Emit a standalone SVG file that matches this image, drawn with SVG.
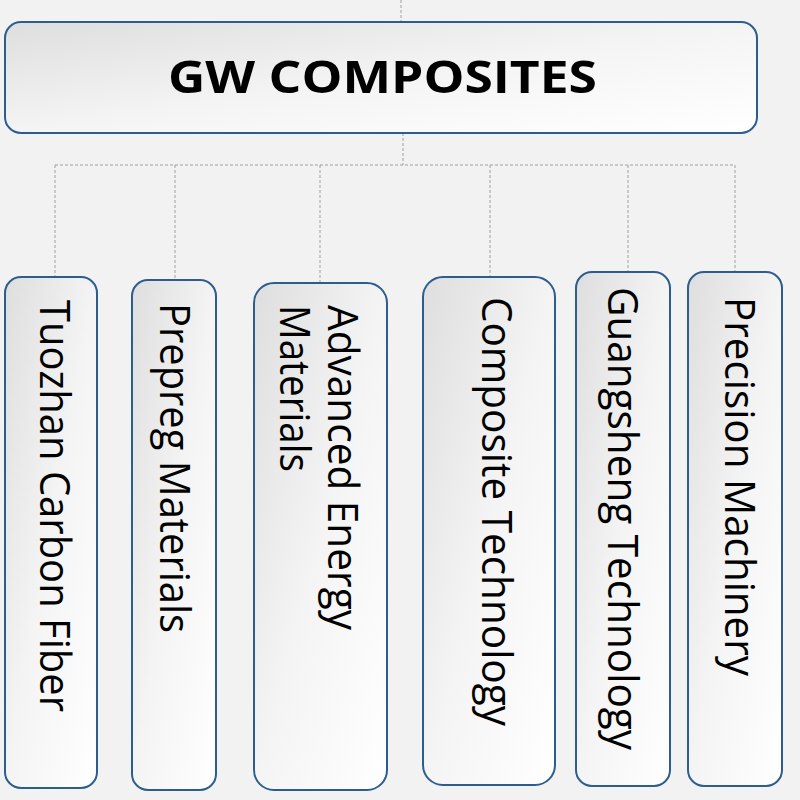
<svg xmlns="http://www.w3.org/2000/svg" width="800" height="800" viewBox="0 0 800 800">
<defs>
<linearGradient id="g" x1="0" y1="0" x2="1" y2="1">
<stop offset="0" stop-color="#dedede"/>
<stop offset="0.5" stop-color="#f4f4f4"/>
<stop offset="1" stop-color="#ffffff"/>
</linearGradient>
<style>
.box{fill:url(#g);stroke:#2c5d8f;stroke-width:2}
.lbl{font-family:"Open Sans","Liberation Sans",sans-serif;font-size:42px;fill:#000}
.title{font-family:"Open Sans","Liberation Sans",sans-serif;font-size:45px;font-weight:bold;fill:#000}
.con{fill:none;stroke:#a0a0a0;stroke-width:1;stroke-dasharray:3 2}
</style>
</defs>
<rect width="800" height="800" fill="#f2f2f2"/>
<g id="connectors">
<path class="con" d="M401 0V22"/>
<path class="con" d="M403 133V165"/>
<path class="con" d="M55 165H735"/>
<path class="con" d="M55 165V277M175 165V280M320 165V283M490 165V277M628 165V272M735 165V272"/>
</g>
<g id="root">
<rect class="box" x="5" y="22" width="752" height="111" rx="16"/>
<text class="title" x="168" y="93" textLength="429" lengthAdjust="spacingAndGlyphs">GW COMPOSITES</text>
</g>
<g id="n1">
<rect class="box" x="5" y="277" width="92" height="511" rx="16"/>
<text class="lbl" transform="translate(40,300) rotate(90)" textLength="412" lengthAdjust="spacingAndGlyphs">Tuozhan Carbon Fiber</text>
</g>
<g id="n2">
<rect class="box" x="132" y="280" width="84" height="510" rx="16"/>
<text class="lbl" transform="translate(160,303) rotate(90)" textLength="330" lengthAdjust="spacingAndGlyphs">Prepreg Materials</text>
</g>
<g id="n3">
<rect class="box" x="254" y="283" width="133" height="507" rx="20"/>
<text class="lbl" transform="translate(328,305) rotate(90)" textLength="325" lengthAdjust="spacingAndGlyphs">Advanced Energy</text>
<text class="lbl" transform="translate(280,305) rotate(90)" textLength="167" lengthAdjust="spacingAndGlyphs">Materials</text>
</g>
<g id="n4">
<rect class="box" x="423" y="277" width="132" height="508" rx="20"/>
<text class="lbl" transform="translate(482,297) rotate(90)" textLength="429" lengthAdjust="spacingAndGlyphs">Composite Technology</text>
</g>
<g id="n5">
<rect class="box" x="576" y="272" width="94" height="514" rx="16"/>
<text class="lbl" transform="translate(608,287) rotate(90)" textLength="463" lengthAdjust="spacingAndGlyphs">Guangsheng Technology</text>
</g>
<g id="n6">
<rect class="box" x="688" y="272" width="94" height="514" rx="16"/>
<text class="lbl" transform="translate(725,297) rotate(90)" textLength="379" lengthAdjust="spacingAndGlyphs">Precision Machinery</text>
</g>
</svg>
